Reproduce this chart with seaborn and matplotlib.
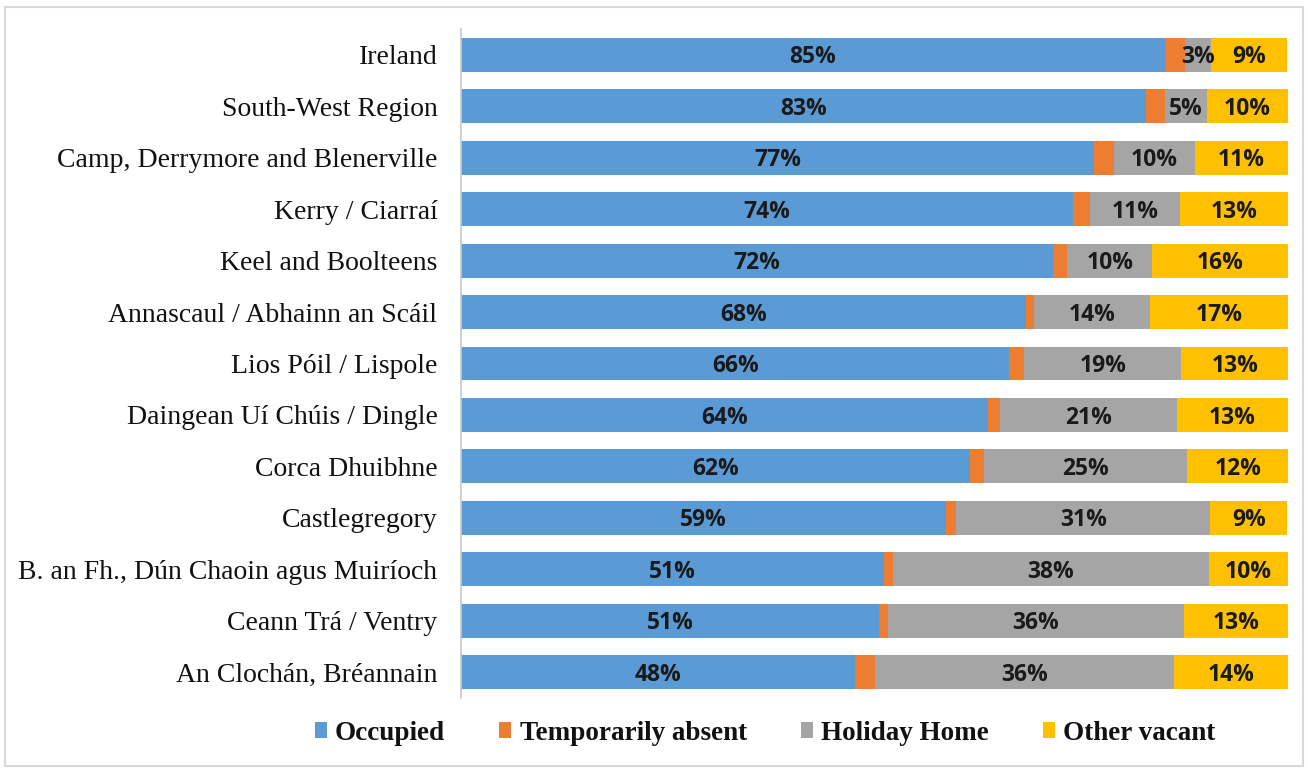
import matplotlib
matplotlib.use("Agg")
import matplotlib.pyplot as plt
import seaborn as sns
import pandas as pd
import numpy as np
from matplotlib.patches import Rectangle, Patch

areas = ["Ireland", "South-West Region", "Camp, Derrymore and Blenerville",
         "Kerry / Ciarraí", "Keel and Boolteens", "Annascaul / Abhainn an Scáil",
         "Lios Póil / Lispole", "Daingean Uí Chúis / Dingle", "Corca Dhuibhne",
         "Castlegregory", "B. an Fh., Dún Chaoin agus Muiríoch",
         "Ceann Trá / Ventry", "An Clochán, Bréannain"]
occupied = [85.1, 82.8, 76.6, 74.0, 71.6, 68.3, 66.3, 63.7, 61.6, 58.6, 51.1, 50.6, 47.6]
temp_absent = [2.5, 2.3, 2.3, 2.1, 1.7, 1.0, 1.8, 1.5, 1.6, 1.3, 1.1, 1.0, 2.4]
holiday = [3.1, 5.1, 9.8, 10.8, 10.3, 14.0, 19.0, 21.4, 24.6, 30.7, 38.2, 35.8, 36.2]
other_vacant = [9.2, 9.8, 11.4, 13.2, 16.4, 16.7, 12.9, 13.4, 12.3, 9.3, 9.6, 12.7, 13.8]

series_names = ["Occupied", "Temporarily absent", "Holiday Home", "Other vacant"]
colors = ["#5B9BD5", "#ED7D31", "#A5A5A5", "#FFC000"]
labelled = [True, False, True, True]

sns.set_style("white")
plt.rcParams['font.family'] = ['Liberation Serif', 'DejaVu Serif']

fig = plt.figure(figsize=(13.08, 7.71), dpi=100)
ax = fig.add_axes([0.3525, 0.0947, 0.6322, 0.8677])

vals = np.array([occupied, temp_absent, holiday, other_vacant])
cums = np.cumsum(vals, axis=0)

# draw cumulative bars from the largest to the smallest so they stack
for i in range(3, -1, -1):
    df = pd.DataFrame({"area": areas, "value": cums[i]})
    sns.barplot(data=df, x="value", y="area", order=areas, color=colors[i],
                orient="h", width=0.66, ax=ax, saturation=1, edgecolor="none")

for i in range(4):
    if not labelled[i]:
        continue
    for j, a in enumerate(areas):
        start = cums[i - 1][j] if i > 0 else 0
        v = vals[i][j]
        ax.text(start + v / 2, j + 0.05, f"{round(v):.0f}%", ha="center", va="center",
                fontsize=16.5, fontweight="bold", color="#1a1a1a",
                family=["Open Sans", "DejaVu Sans"])

ax.set_xlim(0, 100)
ax.set_ylim(len(areas) - 0.5, -0.5)
ax.set_xlabel("")
ax.set_ylabel("")
ax.set_xticks([])
ax.tick_params(axis="y", length=0, pad=17, labelsize=20, labelcolor="#111111")
for s in ["top", "right", "bottom"]:
    ax.spines[s].set_visible(False)
ax.spines["left"].set_color("#c8c8c8")
ax.spines["left"].set_linewidth(1.2)

handles = [Patch(facecolor=c, edgecolor="none") for c in colors]
leg = fig.legend(handles, series_names, loc="center", bbox_to_anchor=(0.585, 0.049),
                 ncol=4, frameon=False, handlelength=0.45, handleheight=0.55,
                 handletextpad=0.3, columnspacing=2.0,
                 prop={"family": "Liberation Serif", "weight": "bold", "size": 19.5})
for t in leg.get_texts():
    t.set_color("#111111")

fig.patches.append(Rectangle((0.004, 0.006), 0.992, 0.985, transform=fig.transFigure,
                             fill=False, edgecolor="#d9d9d9", linewidth=1.5))

fig.savefig("out.png", dpi=100)
